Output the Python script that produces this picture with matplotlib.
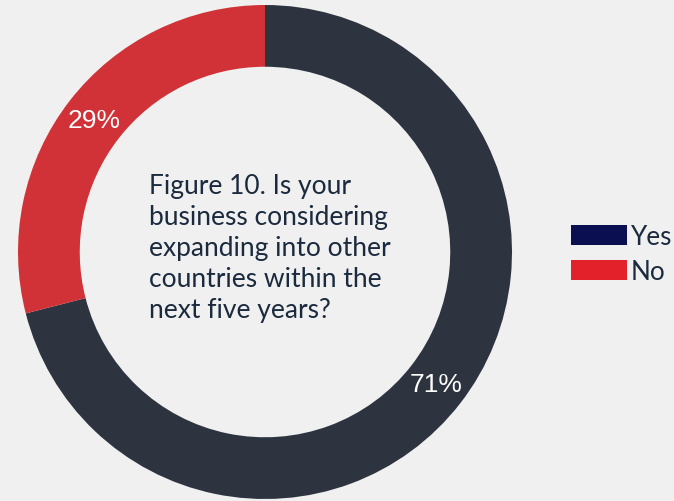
import matplotlib
matplotlib.use("Agg")
import matplotlib.pyplot as plt
from matplotlib.patches import Patch

# Survey answers and their shares (%)
answers = ["Yes", "No"]
shares = [71, 29]
ring_colors = ["#2d3440", "#d13237"]
legend_colors = ["#0a0f52", "#e3212a"]
question = ["Figure 10. Is your",
            "business considering",
            "expanding into other",
            "countries within the",
            "next five years?"]

BG = "#eff0ef"
TEXT = "#1b2a3e"
W, H = 674, 502

fig = plt.figure(figsize=(W / 100, H / 100), dpi=100, facecolor=BG)

# Donut axes: centre (265, 253) px, outer radius 247 px
cx, cy, R = 265, 253, 247
ax = fig.add_axes([(cx - R) / W, (H - cy - R) / H, 2 * R / W, 2 * R / H])
ax.set_facecolor(BG)
ax.axis("off")

wedges, _, autotexts = ax.pie(
    shares,
    colors=ring_colors,
    startangle=90,
    counterclock=False,
    radius=1.0,
    wedgeprops=dict(width=0.25, edgecolor="none"),
    autopct=lambda p: f"{p:.0f}%",
    pctdistance=0.875,
    textprops=dict(color="white", fontsize=19, family="Liberation Sans"),
)
ax.set_xlim(-1, 1)
ax.set_ylim(-1, 1)
ax.set_aspect("equal")

# Question text in the hole, left aligned
line_step = 31
for i, line in enumerate(question):
    fig.text(149 / W, 1 - (194 + i * line_step) / H, line,
             ha="left", va="baseline", fontsize=19, family="Lato", color=TEXT)

# Legend
handles = [Patch(facecolor=c, edgecolor="none") for c in legend_colors]
leg = fig.legend(
    handles, answers,
    loc="center left",
    bbox_to_anchor=(571 / W, 1 - 255 / H),
    frameon=False,
    prop=dict(family="Lato", size=18.8),
    handlelength=2.15,
    handleheight=0.78,
    handletextpad=0.15,
    labelspacing=0.4,
    borderpad=0,
    borderaxespad=0,
)
for t in leg.get_texts():
    t.set_color(TEXT)

fig.savefig("out.png", dpi=100, facecolor=BG)
